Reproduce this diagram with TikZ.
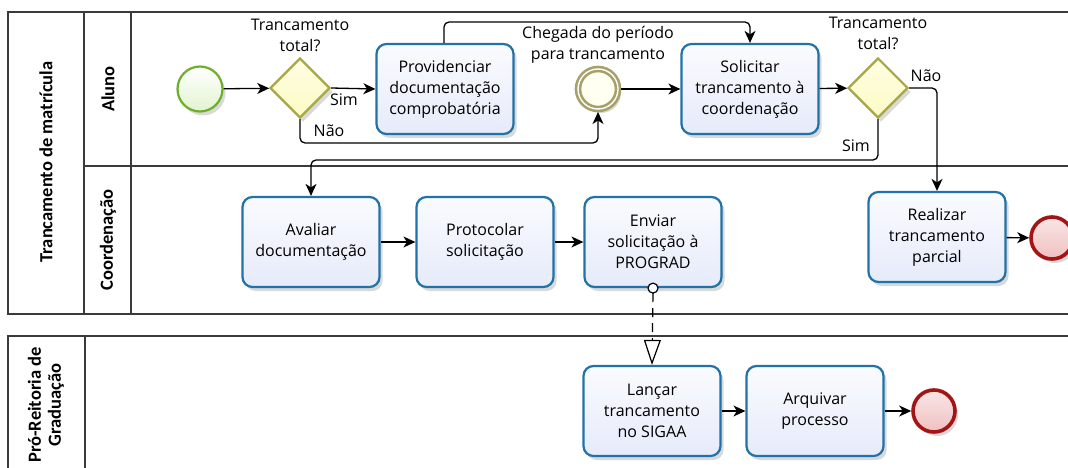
\documentclass[tikz,border=0pt]{standalone}
\usepackage{fontspec}
\setmainfont{Open Sans}
\newfontfamily\hdrfont{Carlito}
\usetikzlibrary{arrows.meta,shapes.geometric,shadows,calc}

\definecolor{taskstroke}{HTML}{2172A8}
\definecolor{taskfill}{HTML}{E6EBFA}
\definecolor{startstroke}{HTML}{6CB02A}
\definecolor{startfill}{HTML}{E2F4CF}
\definecolor{gwstroke}{HTML}{A9A646}
\definecolor{gwfill}{HTML}{FDFBC4}
\definecolor{iestroke}{HTML}{A7A068}
\definecolor{iefill}{HTML}{FFFFF2}
\definecolor{endstroke}{HTML}{A41414}
\definecolor{endfill}{HTML}{F0C0C0}
\definecolor{poolline}{HTML}{3A3A3A}

\tikzset{
  txt/.style={font=\fontsize{16}{21}\selectfont, align=center},
  task/.style={txt, draw=taskstroke, line width=2.2pt, rounded corners=10pt,
    top color=white!80!taskfill, bottom color=taskfill,
    minimum width=137pt, minimum height=90pt, inner sep=2pt,
    drop shadow={shadow xshift=3pt, shadow yshift=-4pt, opacity=0.15, fill=black}},
  startev/.style={circle, draw=startstroke, line width=2.2pt, minimum size=45pt, inner sep=0pt,
    top color=white, bottom color=startfill,
    drop shadow={shadow xshift=3pt, shadow yshift=-4pt, opacity=0.15, fill=black}},
  endev/.style={circle, draw=endstroke, line width=3.6pt, minimum size=42pt, inner sep=0pt,
    top color=white!60!endfill, bottom color=endfill,
    drop shadow={shadow xshift=3pt, shadow yshift=-4pt, opacity=0.15, fill=black}},
  gateway/.style={diamond, draw=gwstroke, line width=2.2pt, minimum width=60pt, minimum height=60pt,
    inner sep=0pt, aspect=1, top color=white!50!gwfill, bottom color=gwfill,
    drop shadow={shadow xshift=3pt, shadow yshift=-4pt, opacity=0.15, fill=black}},
  interev/.style={circle, draw=iestroke, line width=2.6pt, double=white, double distance=1.4pt,
    minimum size=40pt, inner sep=0pt, outer sep=3pt, fill=iefill,
    drop shadow={shadow xshift=3pt, shadow yshift=-4pt, opacity=0.15, fill=black}},
  flow/.style={draw=black, line width=1.3pt, rounded corners=5pt,
    -{Stealth[length=12pt, width=11pt, inset=3.5pt]}},
  msgflow/.style={draw=black, line width=1.2pt, dash pattern=on 9pt off 6pt,
    -{Triangle[open, length=25pt, width=17pt, line width=1.2pt]}},
  pool/.style={draw=poolline, line width=1.4pt},
  hdr/.style={font=\hdrfont\bfseries\fontsize{18.5}{20}\selectfont, align=center, rotate=90},
  lbl/.style={font=\fontsize{16}{21}\selectfont, inner sep=0pt}
}

\begin{document}
\begin{tikzpicture}[x=1pt, y=-1pt]
\useasboundingbox (0,0) rectangle (1068,468);
\clip (0,0) rectangle (1068,468);

% top pool
\draw[pool, fill=white] (8,12) rectangle (1080,314);
\draw[pool] (84,12) -- (84,314);
\draw[pool] (131,12) -- (131,314);
\draw[pool] (84,166) -- (1080,166);
% bottom pool
\draw[pool, fill=white] (8,336) rectangle (1080,480);
\draw[pool] (85,336) -- (85,480);

% headers
\node[hdr] (poolA) at (46,162) {Trancamento de matrícula};
\node[hdr] (laneA) at (108,89) {Aluno};
\node[hdr] (laneB) at (108,240) {Coordenação};
\node[hdr] (poolB) at (46,405) {Pró-Reitoria de\\Graduação};

% Aluno lane
\node[startev] (start) at (200,89) {};
\node[gateway] (g1) at (300,88) {};
\node[txt] (g1l) at (300,35) {Trancamento\\total?};
\node[task] (prov) at (445,89) {Providenciar\\documentação\\comprobatória};
\node[interev] (ie) at (598,89) {};
\node[txt] (iel) at (598,45) {Chegada do período\\para trancamento};
\node[task] (sol) at (750,89) {Solicitar\\trancamento à\\coordenação};
\node[gateway] (g2) at (878,88) {};
\node[txt] (g2l) at (878,33) {Trancamento\\total?};

% Coordenacao lane
\node[task] (aval) at (311,242) {Avaliar\\documentação};
\node[task] (prot) at (485,242) {Protocolar\\solicitação};
\node[task] (envi) at (653,242) {Enviar\\solicitação à\\PROGRAD};
\node[task] (real) at (937,237) {Realizar\\trancamento\\parcial};
\node[endev] (end1) at (1052,238) {};

% PROGRAD pool
\node[task] (lanc) at (652,411) {Lançar\\trancamento\\no SIGAA};
\node[task] (arq) at (815,411) {Arquivar\\processo};
\node[endev] (end2) at (934,411) {};

% flows
\draw[flow] (start) -- (g1);
\draw[flow] (g1.east) -- (prov.west);
\draw[flow] (g1.south) -- (300,143) -- (598,143) -- (ie.south);
\draw[flow] (prov.north -| 444,0) -- (444,22) -| (sol.north);
\draw[flow] (ie) -- (sol);
\draw[flow] (sol) -- (g2);
\draw[flow] (g2.east) -| (real.north);
\draw[flow] (g2.south) -- (878,160) -| (aval.north);
\draw[flow] (aval) -- (prot);
\draw[flow] (prot) -- (envi);
\draw[flow] (real) -- (end1);
\draw[flow] (lanc) -- (arq);
\draw[flow] (arq) -- (end2);

% message flow
\coordinate (mstart) at (envi.south);
\draw[msgflow] ($(mstart)+(0,5)$) -- (lanc.north);
\draw[line width=1.2pt, fill=white] (mstart) circle (5pt);

% labels
\node[lbl] (sim1) at (344,100) {Sim};
\node[lbl] (nao1) at (329,131) {Não};
\node[lbl] (nao2) at (926,76) {Não};
\node[lbl] (sim2) at (856,146) {Sim};
\end{tikzpicture}
\end{document}
